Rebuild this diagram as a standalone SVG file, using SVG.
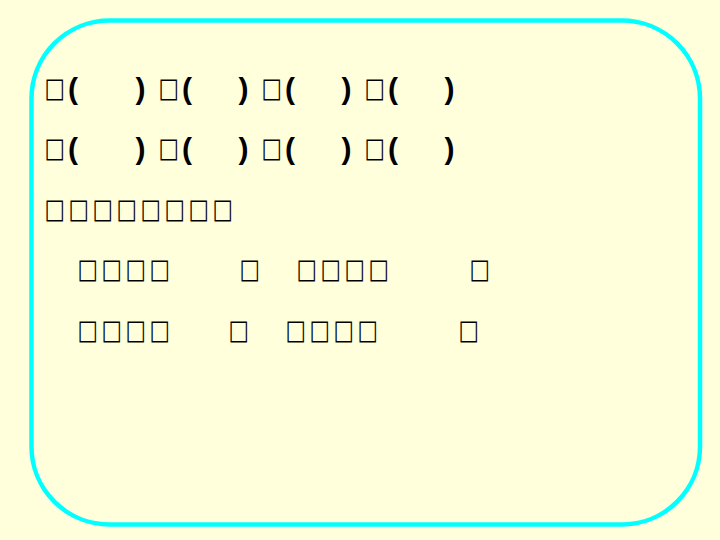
<svg xmlns="http://www.w3.org/2000/svg" width="720" height="540" viewBox="0 0 720 540">
<style>
.bx{font-family:"DejaVu Sans",sans-serif;font-size:27px;fill:#000}
.pr{font-family:"Liberation Sans",Arial,sans-serif;font-weight:bold;font-size:30px;fill:#000}
</style>
<rect x="0" y="0" width="720" height="540" fill="#FFFFDC"/>
<rect x="31.5" y="20.5" width="668.5" height="504" rx="78" ry="78" fill="none" stroke="#00FFFF" stroke-width="4.5"/>
<g id="row1">
<text class="bx" transform="scale(0.8,1)" x="55.75 198.25 327 455.75" y="97.5">□□□□</text>
<text class="pr" x="68 135.5 182 238.5 285 341.5 388 444.5" y="99">()()()()</text>
</g>
<g id="row2">
<text class="bx" transform="scale(0.8,1)" x="55.75 198.25 327 455.75" y="157.5">□□□□</text>
<text class="pr" x="68 135.5 182 238.5 285 341.5 388 444.5" y="159">()()()()</text>
</g>
<g id="row3">
<text class="bx" transform="scale(0.8,1)" x="55.75 85.75 115.75 145.75 175.75 205.75 235.75 265.75" y="218.5">□□□□□□□□</text>
</g>
<g id="row4">
<text class="bx" transform="scale(0.8,1)" x="97 127 157 187 299.5 370.75 400.75 430.75 460.75 587" y="278.5">□□□□□□□□□□</text>
</g>
<g id="row5">
<text class="bx" transform="scale(0.8,1)" x="97 127 157 187 285.75 357 387 417 447 573.25" y="339.5">□□□□□□□□□□</text>
</g>
</svg>
